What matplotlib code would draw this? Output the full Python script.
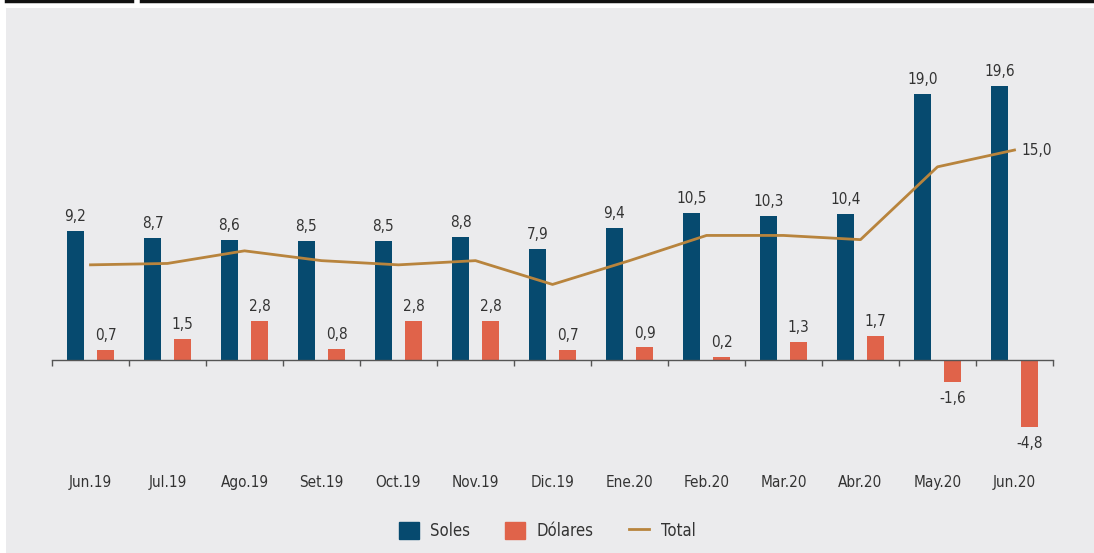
import matplotlib.pyplot as plt
from matplotlib.patches import Rectangle
from matplotlib.lines import Line2D
import numpy as np

months = ['Jun.19', 'Jul.19', 'Ago.19', 'Set.19', 'Oct.19', 'Nov.19', 'Dic.19',
          'Ene.20', 'Feb.20', 'Mar.20', 'Abr.20', 'May.20', 'Jun.20']
soles = [9.2, 8.7, 8.6, 8.5, 8.5, 8.8, 7.9, 9.4, 10.5, 10.3, 10.4, 19.0, 19.6]
dolares = [0.7, 1.5, 2.8, 0.8, 2.8, 2.8, 0.7, 0.9, 0.2, 1.3, 1.7, -1.6, -4.8]
total = [6.8, 6.9, 7.8, 7.1, 6.8, 7.1, 5.4, 7.1, 8.9, 8.9, 8.6, 13.8, 15.0]

c_soles = '#064a6f'
c_dol = '#e0634a'
c_tot = '#b8843d'
c_txt = '#333333'
bg = '#ebebed'

plt.rcParams['font.family'] = ['Liberation Sans Narrow', 'DejaVu Sans']
plt.rcParams['font.stretch'] = 'condensed'

fig = plt.figure(figsize=(10.94, 5.53), dpi=100)
W, H = 1094, 553
# grey panel and the black rule on top
fig.patches.append(Rectangle((6 / W, 0), 1 - 6 / W, 1 - 8 / H, transform=fig.transFigure,
                             facecolor=bg, edgecolor='none', zorder=-5))
fig.lines.append(Line2D([6 / W, 132 / W], [1 - 1 / H] * 2, transform=fig.transFigure,
                        color='#111111', lw=2.5))
fig.lines.append(Line2D([141 / W, 1], [1 - 1 / H] * 2, transform=fig.transFigure,
                        color='#111111', lw=2.5))

ax = fig.add_axes([52 / W, 1 - 440 / H, (1053 - 52) / W, 380 / H])
ax.set_facecolor('none')
ax.set_zorder(2)
x = np.arange(len(months))
bw = 0.22
off = 0.195
ax.bar(x - off, soles, bw, color=c_soles, zorder=2)
ax.bar(x + off, dolares, bw, color=c_dol, zorder=2)
ax.plot(x, total, color=c_tot, lw=2, zorder=3)

for i in x:
    ax.annotate(f'{soles[i]:.1f}'.replace('.', ','), (i - off, soles[i]), xytext=(0, 5),
                textcoords='offset points', ha='center', va='bottom', fontsize=11, color=c_txt)
    d = dolares[i]
    ax.annotate(f'{d:.1f}'.replace('.', ','), (i + off, d), xytext=(0, 5 if d >= 0 else -6),
                textcoords='offset points', ha='center', va='bottom' if d >= 0 else 'top',
                fontsize=11, color=c_txt)
ax.annotate(f'{total[-1]:.1f}'.replace('.', ','), (x[-1], total[-1]), xytext=(5, 0),
            textcoords='offset points', ha='left', va='center', fontsize=11, color=c_txt)

ax.set_xlim(-0.5, len(months) - 0.5)
ax.set_ylim(-5.71, 21.43)
for s in ['top', 'right', 'left']:
    ax.spines[s].set_visible(False)
ax.spines['bottom'].set_position(('data', 0))
ax.spines['bottom'].set_color('#555555')
ax.spines['bottom'].set_linewidth(1)
ax.set_yticks([])
ax.set_xticks(x)
ax.set_xticklabels(months, fontsize=11, color=c_txt)
ax.tick_params(axis='x', which='major', length=0, pad=83)
ax.set_xticks(np.arange(len(months) + 1) - 0.5, minor=True)
ax.tick_params(axis='x', which='minor', length=4, width=1, color='#555555', direction='out')

handles = [Rectangle((0, 0), 1, 1, color=c_soles), Rectangle((0, 0), 1, 1, color=c_dol),
           Line2D([], [], color=c_tot, lw=2)]
leg = fig.legend(handles, ['Soles', 'Dólares', 'Total'], loc='center', ncol=3,
                 bbox_to_anchor=(0.5, 1 - 531 / H), frameon=False, fontsize=12,
                 handlelength=1.2, handleheight=1.2, columnspacing=2.1, handletextpad=0.7)
for t in leg.get_texts():
    t.set_color(c_txt)

fig.savefig('out.png', dpi=100, facecolor='white')
